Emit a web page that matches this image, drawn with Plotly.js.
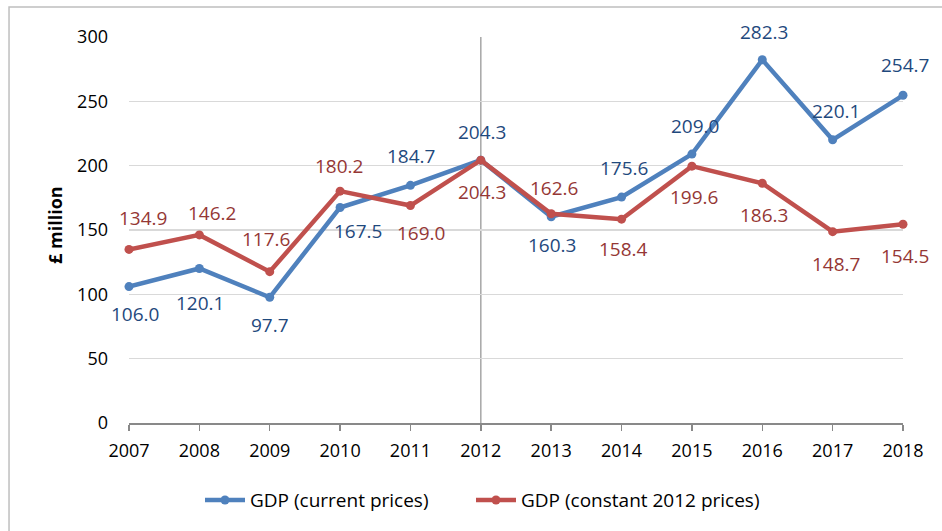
<!DOCTYPE html>
<html>
<head>
<meta charset="utf-8">
<script src="https://cdn.plot.ly/plotly-3.0.1.min.js"></script>
<style>html,body{margin:0;padding:0;background:#fff;}#chart{width:942px;height:531px;}</style>
</head>
<body>
<div id="chart"></div>
<script>
// ---- data ----
const years = [2007, 2008, 2009, 2010, 2011, 2012, 2013, 2014, 2015, 2016, 2017, 2018];
const gdpCurrent = [106.0, 120.1, 97.7, 167.5, 184.7, 204.3, 160.3, 175.6, 209.0, 282.3, 220.1, 254.7];
const gdpConstant = [134.9, 146.2, 117.6, 180.2, 169.0, 204.3, 162.6, 158.4, 199.6, 186.3, 148.7, 154.5];
const seriesNames = ['GDP (current prices)', 'GDP (constant 2012 prices)'];
const yTicks = [0, 50, 100, 150, 200, 250, 300];
const yTitle = '£ million';
const baseYear = 2012;

// ---- styling (label offsets in px: [dx, dy down]) ----
const blueLine = '#4F81BD', redLine = '#C0504D';
const blueText = '#1F497D', redText = '#953735';
const fontFam = '"Open Sans", "Liberation Sans", sans-serif';
const blueOffsets = [[6,27],[1,35],[0,28],[18,24],[1,-29],[1,-28],[1,28],[2,-29],[3,-28],[2,-28],[3,-29],[2,-30]];
const redOffsets = [[14,-31],[13,-22],[-4,-33],[-1,-25],[11,27],[1,32],[3,-26],[2,30],[2,31],[2,32],[3,32],[2,32]];

const traces = [
  {x: years, y: gdpCurrent, name: seriesNames[0], type: 'scatter', mode: 'lines+markers', legend: 'legend',
   line: {color: blueLine, width: 4.5}, marker: {color: blueLine, size: 9}, cliponaxis: false},
  {x: years, y: gdpConstant, name: seriesNames[1], type: 'scatter', mode: 'lines+markers', legend: 'legend2',
   line: {color: redLine, width: 4.5}, marker: {color: redLine, size: 9}, cliponaxis: false}
];

const annotations = [];
function addLabels(vals, offs, color) {
  vals.forEach((v, i) => {
    annotations.push({x: years[i], y: v, xref: 'x', yref: 'y', text: v.toFixed(1), showarrow: false,
      xanchor: 'center', yanchor: 'middle', xshift: offs[i][0], yshift: -offs[i][1],
      font: {family: fontFam, size: 19, color: color}});
  });
}
addLabels(gdpCurrent, blueOffsets, blueText);
addLabels(gdpConstant, redOffsets, redText);
// y-axis title placed explicitly
annotations.push({xref: 'paper', yref: 'paper', x: -0.0956, y: 0.513, text: '<b>' + yTitle + '</b>',
  textangle: -90, showarrow: false, xanchor: 'center', yanchor: 'middle',
  font: {family: fontFam, size: 18, color: '#000'}});

const legendBase = {orientation: 'h', xref: 'container', yref: 'container', y: 0.058,
  xanchor: 'left', yanchor: 'middle', font: {family: fontFam, size: 19, color: '#000'},
  itemwidth: 40, bgcolor: 'rgba(0,0,0,0)'};

const layout = {
  width: 942, height: 531,
  margin: {l: 129, r: 39, t: 37, b: 108},
  paper_bgcolor: '#fff', plot_bgcolor: '#fff',
  font: {family: fontFam, size: 18, color: '#000'},
  showlegend: true,
  legend: Object.assign({}, legendBase, {x: 200 / 942}),
  legend2: Object.assign({}, legendBase, {x: 471 / 942}),
  xaxis: {
    range: [years[0], years[years.length - 1]], tickmode: 'array', tickvals: years,
    ticktext: years.map(String), showgrid: false, zeroline: false,
    showline: true, linecolor: '#898989', linewidth: 1.5,
    ticks: 'outside', ticklen: 6, tickwidth: 1.5, tickcolor: '#898989',
    tickfont: {family: fontFam, size: 18, color: '#000'}, ticklabelstandoff: 5
  },
  yaxis: {
    range: [0, 300], tickmode: 'array', tickvals: yTicks, ticktext: yTicks.map(String),
    showgrid: true, gridcolor: '#D9D9D9', gridwidth: 1.5, zeroline: false, showline: false,
    ticks: '', tickfont: {family: fontFam, size: 18, color: '#000'}, ticklabelstandoff: 20
  },
  shapes: [
    {type: 'line', xref: 'x', yref: 'paper', x0: baseYear, x1: baseYear, y0: 0, y1: 1,
     line: {color: '#A6A6A6', width: 1.5}, layer: 'below'},
    {type: 'rect', xref: 'paper', yref: 'paper', x0: -0.155, x1: 1.2, y0: -0.6, y1: 1.0777,
     line: {color: '#BFBFBF', width: 1.5}, fillcolor: 'rgba(0,0,0,0)', layer: 'below'}
  ],
  annotations: annotations
};

Plotly.newPlot('chart', traces, layout, {displayModeBar: false, staticPlot: true});
</script>
</body>
</html>
